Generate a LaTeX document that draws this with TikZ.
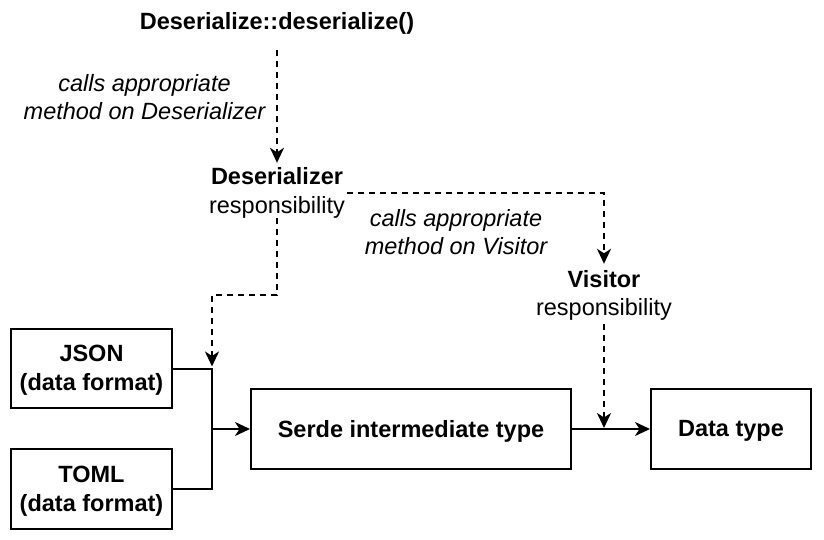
\documentclass[tikz,border=0pt]{standalone}
\usepackage{fontspec}
\setmainfont{Liberation Sans}
\usetikzlibrary{arrows.meta}
\begin{document}
\begin{tikzpicture}[x=1pt,y=-1pt,
  every node/.style={inner sep=0pt, font=\fontsize{23.5}{28}\selectfont},
  lbl/.style={text height=17pt, text depth=5pt, anchor=base},
  bold/.style={font=\fontsize{23.5}{28}\selectfont\bfseries},
  ital/.style={align=center, font=\fontsize{23.5}{28}\selectfont\itshape},
  box/.style={draw, line width=2pt, align=center, text depth=1pt, font=\fontsize{23.5}{29}\selectfont\bfseries},
  solidarrow/.style={line width=2pt, -{Stealth[length=15pt, width=14pt, inset=4.5pt]}},
  dasharrow/.style={line width=2pt, dash pattern=on 6pt off 5pt, -{Stealth[length=15pt, width=14pt, inset=4.5pt]}}
]
\useasboundingbox (0,0) rectangle (824,540);

% boxes
\node[box, minimum width=161pt, minimum height=79pt] (json) at (91.5,368.5) {JSON\\(data format)};
\node[box, minimum width=161pt, minimum height=80pt] (toml) at (91.5,489) {TOML\\(data format)};
\node[box, minimum width=320pt, minimum height=80pt] (serde) at (411,429) {Serde intermediate type};
\node[box, minimum width=160pt, minimum height=80pt] (data) at (731,429) {Data type};

% labels
\node[lbl, bold] (dd) at (277,30) {Deserialize::deserialize()};
\node[lbl, bold] (deserT) at (277,185) {Deserializer};
\node[lbl] (deserR) at (277,213) {responsibility};
\node[lbl, bold] (visT) at (604,287) {Visitor};
\node[lbl] (visR) at (604,315) {responsibility};

\node[ital, anchor=center] (callD) at (144.5,97) {calls appropriate\\method on Deserializer};
\node[ital, anchor=center] (callV) at (456,232) {calls appropriate\\method on Visitor};

% solid connectors
\draw[line width=2pt] (json.east) -- ++(39,0) coordinate (junc) |- (toml.east);
\draw[solidarrow] (junc |- serde.west) -- (serde.west);
\draw[solidarrow] (serde.east) -- (data.west);

% dashed connectors
\draw[dasharrow, shorten <=15pt, shorten >=5pt] (dd.south) -- (deserT.north);
\draw[dasharrow, shorten >=6pt] ([shift={(4,8)}]deserT.base east) -| (visT.north);
\draw[dasharrow, shorten >=2pt] (deserR.south) -- ++(0,77) -| (junc);
\draw[dasharrow, shorten <=4pt, shorten >=1pt] (visR.south) -- (visR.south |- serde.east);
\end{tikzpicture}
\end{document}
